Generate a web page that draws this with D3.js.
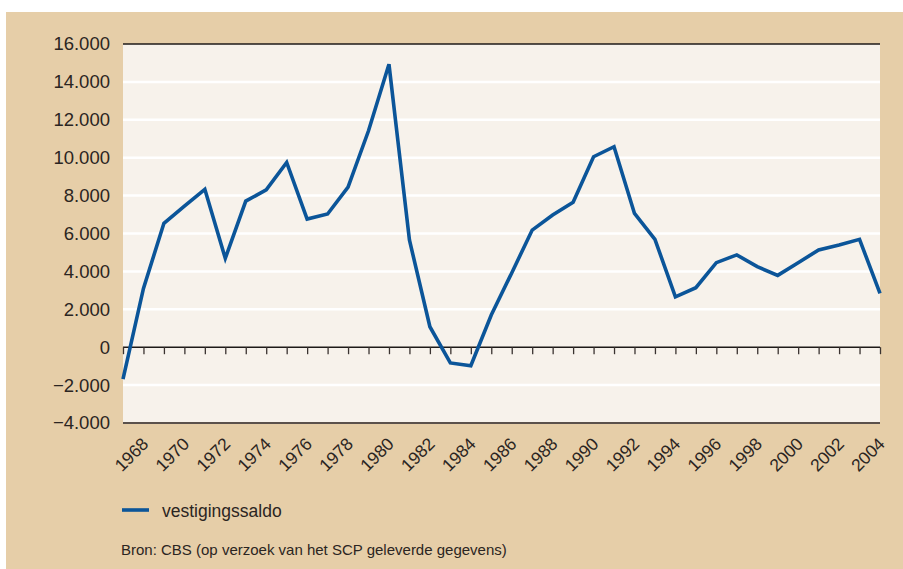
<!DOCTYPE html>
<html>
<head>
<meta charset="utf-8">
<script src="https://cdn.jsdelivr.net/npm/d3@7"></script>
<style>
  html, body { margin: 0; padding: 0; background: #ffffff; }
  svg { display: block; }
  text { font-family: "Liberation Sans", Arial, sans-serif; fill: #2b2522; }
</style>
</head>
<body>
<script>
const years = d3.range(1967, 2005);
const values = [
  -1680, 3100, 6540, 7450, 8330, 4690, 7710, 8300, 9750, 6760,
  7030, 8450, 11420, 14930, 5660, 1080, -830, -980, 1700, 3920,
  6180, 6980, 7650, 10050, 10580, 7060, 5690, 2660, 3140, 4460,
  4870, 4250, 3790, 4460, 5130, 5390, 5690, 2840
];
const yTicks = [-4000, -2000, 0, 2000, 4000, 6000, 8000, 10000, 12000, 14000, 16000];
const xLabelYears = d3.range(1968, 2005, 2);
const seriesName = "vestigingssaldo";
const sourceText = "Bron: CBS (op verzoek van het SCP geleverde gegevens)";

const W = 903, H = 569;
const svg = d3.select("body").append("svg").attr("width", W).attr("height", H);

// background panel
svg.append("rect").attr("x", 0).attr("y", 0).attr("width", W).attr("height", H).attr("fill", "#ffffff");
svg.append("rect").attr("x", 6).attr("y", 12).attr("width", W - 6).attr("height", H - 12).attr("fill", "#e6cea8");

const plot = { left: 123, right: 880, top: 44, bottom: 423 };
const x = d3.scaleLinear().domain([1967, 2004]).range([plot.left, plot.right]);
const y = d3.scaleLinear().domain([-4000, 16000]).range([plot.bottom, plot.top]);

svg.append("rect")
  .attr("x", plot.left).attr("y", plot.top)
  .attr("width", plot.right - plot.left).attr("height", plot.bottom - plot.top)
  .attr("fill", "#f7f2eb");

// gridlines
svg.append("g").selectAll("line")
  .data(yTicks.filter(v => v !== 0 && v !== -4000 && v !== 16000))
  .join("line")
  .attr("x1", plot.left).attr("x2", plot.right)
  .attr("y1", d => y(d)).attr("y2", d => y(d))
  .attr("stroke", "#ffffff").attr("stroke-width", 2.5);

// top & bottom borders
svg.append("line").attr("x1", plot.left).attr("x2", plot.right)
  .attr("y1", y(16000)).attr("y2", y(16000)).attr("stroke", "#1e1a18").attr("stroke-width", 1.5);
svg.append("line").attr("x1", plot.left).attr("x2", plot.right)
  .attr("y1", y(-4000)).attr("y2", y(-4000)).attr("stroke", "#5b514b").attr("stroke-width", 2);

// y axis labels
const yAxis = d3.axisLeft(y).tickValues(yTicks)
  .tickFormat(d => d3.format(",")(d).replace(/,/g, ".").replace("-", "\u2212"))
  .tickSize(0).tickPadding(13);
const gy = svg.append("g").attr("transform", `translate(${plot.left},0)`).call(yAxis);
gy.select(".domain").remove();
gy.selectAll("text").attr("font-size", 18.5).attr("fill", "#2b2522")
  .style("font-family", '"Liberation Sans", Arial, sans-serif');

// zero axis with ticks per year
const xAxis = d3.axisBottom(x).tickValues(years).tickSize(7).tickFormat("");
const gx = svg.append("g").attr("transform", `translate(0,${y(0)})`).call(xAxis);
gx.select(".domain").attr("stroke", "#1e1a18").attr("stroke-width", 1.5).attr("d", `M${plot.left},0H${plot.right}`);
gx.selectAll(".tick line").attr("stroke", "#3a3330").attr("stroke-width", 1.3);

// rotated year labels
svg.append("g").selectAll("text")
  .data(xLabelYears)
  .join("text")
  .attr("transform", d => `translate(${x(d) + 6},${plot.bottom + 22}) rotate(-45)`)
  .attr("text-anchor", "end")
  .attr("font-size", 17.5)
  .text(d => d);

// series line
const line = d3.line().x((d, i) => x(years[i])).y(d => y(d));
svg.append("path").datum(values)
  .attr("d", line)
  .attr("fill", "none")
  .attr("stroke", "#0b5599")
  .attr("stroke-width", 3.6)
  .attr("stroke-linejoin", "miter");

// legend
svg.append("line").attr("x1", 122).attr("x2", 149).attr("y1", 510).attr("y2", 510)
  .attr("stroke", "#0b5599").attr("stroke-width", 3.6);
svg.append("text").attr("x", 162).attr("y", 517).attr("font-size", 17.5).text(seriesName);

// source
svg.append("text").attr("x", 121).attr("y", 555).attr("font-size", 15).text(sourceText);
</script>
</body>
</html>
